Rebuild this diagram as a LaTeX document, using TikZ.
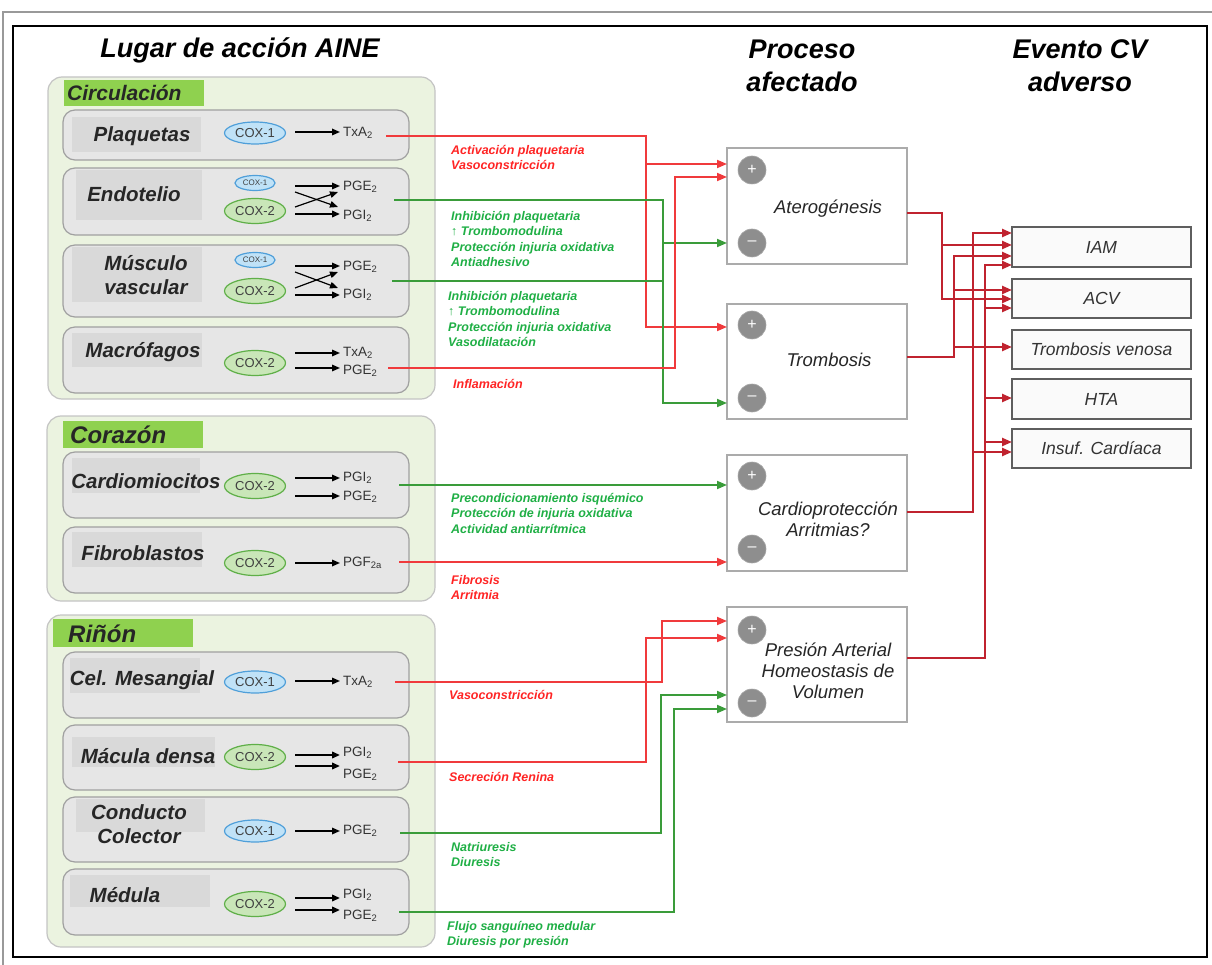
\documentclass[tikz,border=0pt]{standalone}
\usepackage{fontspec}
\setmainfont{Liberation Sans}
\usetikzlibrary{arrows.meta,shapes.geometric}
\newcommand{\myfs}[2]{\fontsize{#1}{#2}\selectfont}
\definecolor{grpfill}{HTML}{EBF3E0}
\definecolor{grpdraw}{HTML}{C4C4C4}
\definecolor{glabfill}{HTML}{8FD14F}
\definecolor{cellfill}{HTML}{E6E6E6}
\definecolor{celldraw}{HTML}{A0A0A0}
\definecolor{tagfill}{HTML}{D9D9D9}
\definecolor{cox1fill}{HTML}{C0E2F7}
\definecolor{cox1draw}{HTML}{4F9FD9}
\definecolor{cox2fill}{HTML}{C9E6B8}
\definecolor{cox2draw}{HTML}{5FAF48}
\definecolor{redA}{HTML}{F03A3C}
\definecolor{greenA}{HTML}{3A9C3A}
\definecolor{redT}{HTML}{FF2424}
\definecolor{greenT}{HTML}{1FAF45}
\definecolor{darkred}{HTML}{C0232F}
\definecolor{procdraw}{HTML}{ABABAB}
\definecolor{evdraw}{HTML}{5E5E5E}
\definecolor{pmfill}{HTML}{8E8E8E}
\tikzset{
 grp/.style={fill=grpfill, draw=grpdraw, line width=1.2pt, rounded corners=14pt},
 cellbox/.style={fill=cellfill, draw=celldraw, line width=1.2pt, rounded corners=12pt},
 tagbox/.style={fill=tagfill},
 glab/.style={fill=glabfill},
 glabtext/.style={anchor=west, inner sep=0pt, font=\myfs{21}{23}\bfseries\itshape, text=black!85},
 clabel/.style={font=\myfs{20.5}{24}\bfseries\itshape, text=black!85, align=center, inner sep=0pt},
 coxa/.style={ellipse, fill=cox1fill, draw=cox1draw, line width=1.2pt, minimum width=61pt, minimum height=22pt, inner sep=0pt, font=\myfs{13}{14}, text=black!75},
 coxas/.style={coxa, minimum width=40pt, minimum height=15pt, font=\myfs{8}{9}},
 coxb/.style={coxa, fill=cox2fill, draw=cox2draw, minimum height=25pt},
 prod/.style={anchor=west, inner sep=0pt, font=\myfs{13.5}{15}, text=black!80},
 parr/.style={-{Triangle[length=8pt,width=6.5pt]}, line width=1.6pt, black},
 parrthick/.style={parr, line width=2.4pt},
 header/.style={font=\myfs{27}{33}\bfseries\itshape, align=center, inner sep=0pt},
 proc/.style={draw=procdraw, fill=white, line width=2pt, inner sep=0pt},
 proctext/.style={font=\myfs{18.5}{21}\itshape, align=center, inner sep=0pt, text=black!85},
 pm/.style={circle, fill=pmfill, draw=black!35, line width=0.6pt, minimum size=28pt, inner sep=0pt, text=white, font=\myfs{16}{16}},
 ev/.style={draw=evdraw, fill=black!2, line width=1.5pt, minimum width=179pt, inner sep=0pt, font=\myfs{17.5}{19}\itshape, text=black!80},
 effR/.style={anchor=north west, inner sep=0pt, align=left, font=\myfs{12.5}{15.5}\bfseries\itshape, text=redT},
 effG/.style={effR, text=greenT},
 rline/.style={draw=redA, line width=1.8pt},
 rarr/.style={rline, -{Triangle[length=10pt,width=8pt]}},
 gline/.style={draw=greenA, line width=1.8pt},
 garr/.style={gline, -{Triangle[length=10pt,width=8pt]}},
 dline/.style={draw=darkred, line width=2.3pt},
 darr/.style={dline, -{Triangle[length=10pt,width=8pt]}},
}
\begin{document}
\begin{tikzpicture}[x=1pt,y=-1pt]
\useasboundingbox (0,0) rectangle (1212,965);
\draw[black!40, line width=1.5pt] (3,965) -- (3,12) -- (1212,12);
\draw[black, line width=1.2pt] (13,26) rectangle (1207,957);

% headers
\node[header] (h1) at (240,50) {Lugar de acci\'on AINE};
\node[header] (h2) at (802,66) {Proceso\\afectado};
\node[header] (h3) at (1080,66) {Evento CV\\adverso};

% ---------- groups ----------
\draw[grp] (48,77) rectangle (435,399);
\fill[glab] (64,80) rectangle (204,106);
\node[glabtext] (gcirc) at (67,93) {Circulaci\'on};

\draw[grp] (47,416) rectangle (435,601);
\fill[glab] (63,421) rectangle (203,448);
\node[glabtext, font=\myfs{24}{26}\bfseries\itshape] (gcor) at (70,435) {Coraz\'on};

\draw[grp] (47,615) rectangle (435,947);
\fill[glab] (53,619) rectangle (193,647);
\node[glabtext, font=\myfs{24}{26}\bfseries\itshape] (grin) at (68,634) {Riñ\'on};

% ---------- cells ----------
\draw[cellbox] (63,110) rectangle (409,160);
\fill[tagbox] (72,117) rectangle (201,152);
\draw[cellbox] (63,168) rectangle (409,235);
\fill[tagbox] (76,170) rectangle (202,220);
\draw[cellbox] (63,245) rectangle (409,317);
\fill[tagbox] (72,247) rectangle (202,302);
\draw[cellbox] (63,327) rectangle (409,393);
\fill[tagbox] (72,333) rectangle (202,367);

\draw[cellbox] (63,452) rectangle (409,518);
\fill[tagbox] (72,458) rectangle (200,493);
\draw[cellbox] (63,527) rectangle (409,593);
\fill[tagbox] (72,532) rectangle (202,567);

\draw[cellbox] (63,652) rectangle (409,718);
\fill[tagbox] (70,658) rectangle (200,693);
\draw[cellbox] (63,725) rectangle (409,790);
\fill[tagbox] (72,737) rectangle (215,767);
\draw[cellbox] (63,797) rectangle (409,862);
\fill[tagbox] (76,799) rectangle (205,832);
\draw[cellbox] (63,869) rectangle (409,935);
\fill[tagbox] (70,875) rectangle (210,907);

% cell labels
\node[clabel] (lplaq) at (142,136) {Plaquetas};
\node[clabel] (lendo) at (134,194) {Endotelio};
\node[clabel] (lmus) at (146,275) {M\'usculo\\vascular};
\node[clabel] (lmac) at (143,352) {Macr\'ofagos};
\node[clabel] (lcard) at (146,481) {Cardiomiocitos};
\node[clabel] (lfib) at (143,553) {Fibroblastos};
\node[clabel] (lmes) at (142,680) {Cel. Mesangial};
\node[clabel] (lmac2) at (148,756) {M\'acula densa};
\node[clabel] (lcon) at (139,824) {Conducto\\Colector};
\node[clabel] (lmed) at (125,895) {M\'edula};

% COX enzymes
\node[coxa] (c1) at (255,133) {COX-1};
\node[coxas] (c2a) at (255,183) {COX-1};
\node[coxb] (c2b) at (255,211) {COX-2};
\node[coxas] (c3a) at (255,260) {COX-1};
\node[coxb] (c3b) at (255,291) {COX-2};
\node[coxb] (c4) at (255,363) {COX-2};
\node[coxb] (c5) at (255,486) {COX-2};
\node[coxb] (c6) at (255,563) {COX-2};
\node[coxa] (c7) at (255,682) {COX-1};
\node[coxb] (c8) at (255,757) {COX-2};
\node[coxa] (c9) at (255,831) {COX-1};
\node[coxb] (c10) at (255,904) {COX-2};

% products
\node[prod] (p1) at (343,133) {TxA\textsubscript{2}};
\node[prod] (p2a) at (343,187) {PGE\textsubscript{2}};
\node[prod] (p2b) at (343,216) {PGI\textsubscript{2}};
\node[prod] (p3a) at (343,267) {PGE\textsubscript{2}};
\node[prod] (p3b) at (343,295) {PGI\textsubscript{2}};
\node[prod] (p4a) at (343,353) {TxA\textsubscript{2}};
\node[prod] (p4b) at (343,371) {PGE\textsubscript{2}};
\node[prod] (p5a) at (343,478) {PGI\textsubscript{2}};
\node[prod] (p5b) at (343,497) {PGE\textsubscript{2}};
\node[prod] (p6) at (343,563) {PGF\textsubscript{2a}};
\node[prod] (p7) at (343,682) {TxA\textsubscript{2}};
\node[prod] (p8a) at (343,753) {PGI\textsubscript{2}};
\node[prod] (p8b) at (343,775) {PGE\textsubscript{2}};
\node[prod] (p9) at (343,831) {PGE\textsubscript{2}};
\node[prod] (p10a) at (343,895) {PGI\textsubscript{2}};
\node[prod] (p10b) at (343,916) {PGE\textsubscript{2}};

% product arrows
\draw[parr] (295,132) -- (340,132);
\draw[parr] (295,186) -- (340,186);
\draw[parr, line width=1.2pt] (295,192) -- (338,207);
\draw[parr, line width=1.2pt] (295,207) -- (338,192);
\draw[parrthick] (295,214) -- (340,214);
\draw[parr] (295,266) -- (340,266);
\draw[parr, line width=1.2pt] (295,272) -- (338,288);
\draw[parr, line width=1.2pt] (295,288) -- (338,272);
\draw[parrthick] (295,295) -- (340,295);
\draw[parr] (295,353) -- (340,353);
\draw[parr] (295,368) -- (340,368);
\draw[parr] (295,478) -- (340,478);
\draw[parr] (295,496) -- (340,496);
\draw[parr] (295,563) -- (340,563);
\draw[parr] (295,681) -- (340,681);
\draw[parrthick] (295,755) -- (340,755);
\draw[parrthick] (295,766) -- (340,766);
\draw[parr] (295,831) -- (340,831);
\draw[parrthick] (295,898) -- (340,898);
\draw[parrthick] (295,910) -- (340,910);

% ---------- process boxes ----------
\node[proc, minimum width=180pt, minimum height=116pt] (ater) at (817,206) {};
\node[proc, minimum width=180pt, minimum height=115pt] (tromb) at (817,361.5) {};
\node[proc, minimum width=180pt, minimum height=116pt] (cardio) at (817,513) {};
\node[proc, minimum width=180pt, minimum height=115pt] (pres) at (817,664.5) {};
\node[proctext] (tater) at (828,209) {Aterog\'enesis};
\node[proctext] (ttromb) at (829,360) {Trombosis};
\node[proctext] (tcardio) at (828,519) {Cardioprotecci\'on\\Arritmias?};
\node[proctext] (tpres) at (828,671) {Presi\'on Arterial\\Homeostasis de\\Volumen};
\node[pm] (aplus) at (752,170) {+};
\node[pm] (aminus) at (752,243) {--};
\node[pm] (tplus) at (752,325) {+};
\node[pm] (tminus) at (752,398) {--};
\node[pm] (cplus) at (752,476) {+};
\node[pm] (cminus) at (752,549) {--};
\node[pm] (pplus) at (752,630) {+};
\node[pm] (pminus) at (752,703) {--};

% ---------- event boxes ----------
\node[ev, minimum height=40pt] (iam) at (1101.5,247) {IAM};
\node[ev, minimum height=39pt] (acv) at (1101.5,298.5) {ACV};
\node[ev, minimum height=39pt] (tv) at (1101.5,349.5) {Trombosis venosa};
\node[ev, minimum height=40pt] (hta) at (1101.5,399) {HTA};
\node[ev, minimum height=39pt] (ic) at (1101.5,448.5) {Insuf. Card\'iaca};

% ---------- connector coordinates ----------
\coordinate (plaqO) at (386,136);
\coordinate (endO) at (394,200);
\coordinate (musO) at (392,281);
\coordinate (macO) at (388,368);
\coordinate (cardO) at (399,485);
\coordinate (fibO) at (399,562);
\coordinate (mesO) at (395,682);
\coordinate (macuO) at (398,762);
\coordinate (conO) at (400,833);
\coordinate (medO) at (399,912);

\coordinate (aP1) at (727,164);
\coordinate (aP2) at (727,177);
\coordinate (aM) at (727,243);
\coordinate (tP) at (727,327);
\coordinate (tM) at (727,403);
\coordinate (cP) at (727,485);
\coordinate (cM) at (727,562);
\coordinate (pP1) at (727,621);
\coordinate (pP2) at (727,638);
\coordinate (pM1) at (727,695);
\coordinate (pM2) at (727,709);

\coordinate (xR1) at (646,0);
\coordinate (xR2) at (675,0);
\coordinate (xG1) at (663,0);
\coordinate (xR3) at (662,0);
\coordinate (xR4) at (646,0);
\coordinate (xG2) at (661,0);
\coordinate (xG3) at (674,0);

% left connectors
\draw[rarr] (plaqO) -| (xR1 |- tP) -- (tP);
\draw[rarr] (xR1 |- aP1) -- (aP1);
\draw[gline] (musO) -- (musO -| xG1);
\draw[garr] (endO) -| (xG1 |- tM) -- (tM);
\draw[garr] (xG1 |- aM) -- (aM);
\draw[rarr] (macO) -| (xR2 |- aP2) -- (aP2);
\draw[garr] (cardO) -- (cP);
\draw[rarr] (fibO) -- (cM);
\draw[rarr] (mesO) -| (xR3 |- pP1) -- (pP1);
\draw[rarr] (macuO) -| (xR4 |- pP2) -- (pP2);
\draw[garr] (conO) -| (xG2 |- pM1) -- (pM1);
\draw[garr] (medO) -| (xG3 |- pM2) -- (pM2);

% effect labels
\node[effR] (e1) at (451,145) {Activaci\'on plaquetaria\\Vasoconstricci\'on};
\node[effG] (e2) at (451,211) {Inhibici\'on plaquetaria\\↑ Trombomodulina\\Protecci\'on injuria oxidativa\\Antiadhesivo};
\node[effG] (e3) at (448,291) {Inhibici\'on plaquetaria\\↑ Trombomodulina\\Protecci\'on injuria oxidativa\\Vasodilataci\'on};
\node[effR] (e4) at (453,379) {Inflamaci\'on};
\node[effG] (e5) at (451,493) {Precondicionamiento isqu\'emico\\Protecci\'on de injuria oxidativa\\Actividad antiarr\'itmica};
\node[effR] (e6) at (451,575) {Fibrosis\\Arritmia};
\node[effR] (e7) at (449,690) {Vasoconstricci\'on};
\node[effR] (e8) at (449,772) {Secreci\'on Renina};
\node[effG] (e9) at (451,842) {Natriuresis\\Diuresis};
\node[effG] (e10) at (447,921) {Flujo sangu\'ineo medular\\Diuresis por presi\'on};

% right connectors
\coordinate (aO) at (907,213);
\coordinate (tO) at (907,357);
\coordinate (cO) at (907,512);
\coordinate (pO) at (907,658);
\coordinate (xA) at (942,0);
\coordinate (xT) at (954,0);
\coordinate (xC) at (973,0);
\coordinate (xP) at (985,0);
\coordinate (iam1) at (1012,233);
\coordinate (iam2) at (1012,245);
\coordinate (iam3) at (1012,256);
\coordinate (iam4) at (1012,265);
\coordinate (acv1) at (1012,290);
\coordinate (acv2) at (1012,299);
\coordinate (acv3) at (1012,308);
\coordinate (tv1) at (1012,347);
\coordinate (hta1) at (1012,398);
\coordinate (ic1) at (1012,442);
\coordinate (ic2) at (1012,452);

\draw[darr] (aO) -| (xA |- acv2) -- (acv2);
\draw[darr] (xA |- iam2) -- (iam2);
\draw[darr] (tO) -| (xT |- iam3) -- (iam3);
\draw[darr] (xT |- acv1) -- (acv1);
\draw[darr] (xT |- tv1) -- (tv1);
\draw[darr] (cO) -| (xC |- iam1) -- (iam1);
\draw[darr] (xC |- ic2) -- (ic2);
\draw[darr] (pO) -| (xP |- iam4) -- (iam4);
\draw[darr] (xP |- acv3) -- (acv3);
\draw[darr] (xP |- hta1) -- (hta1);
\draw[darr] (xP |- ic1) -- (ic1);
\end{tikzpicture}
\end{document}
